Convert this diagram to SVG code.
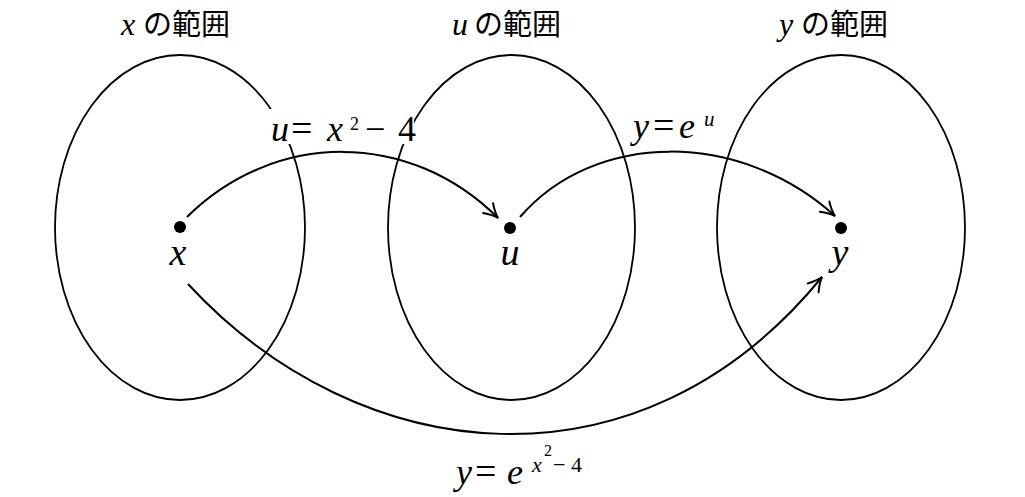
<svg xmlns="http://www.w3.org/2000/svg" width="1025" height="497" viewBox="0 0 1025 497">
<style>
.ell{fill:none;stroke:#000;stroke-width:1.8}
.con{fill:none;stroke:#000;stroke-width:2}
.m{font-family:"Liberation Serif","Times New Roman",serif;fill:#000}
.i{font-style:italic}
.cjk{font-family:"Noto Sans CJK JP",sans-serif;font-size:29px;fill:#000}
.dot{fill:#000}
</style>
<defs>
<marker id="ah" markerUnits="userSpaceOnUse" markerWidth="30" markerHeight="30" refX="0" refY="0" viewBox="-16 -15 30 30" orient="auto" overflow="visible">
<path d="M-14,-7 Q-6,-1.5 0,0 Q-6,1.5 -14,7" fill="none" stroke="#000" stroke-width="2" stroke-linecap="round"/>
</marker>
</defs>
<rect width="1025" height="497" fill="#fff"/>
<g id="range-x">
<ellipse class="ell" cx="180" cy="227.5" rx="125" ry="172.5"/>
<text class="m i" x="121" y="35" font-size="32">x</text>
<text class="cjk" x="143" y="35">の範囲</text>
</g>
<g id="range-u">
<ellipse class="ell" cx="511.5" cy="227.5" rx="123.5" ry="172.5"/>
<text class="m i" x="452" y="35" font-size="32">u</text>
<text class="cjk" x="474" y="35">の範囲</text>
</g>
<g id="range-y">
<ellipse class="ell" cx="841" cy="227.5" rx="124" ry="172.5"/>
<text class="m i" x="779" y="35" font-size="32">y</text>
<text class="cjk" x="801" y="35">の範囲</text>
</g>
<g id="node-x">
<circle class="dot" cx="180" cy="227" r="6"/>
<text class="m i" x="178" y="265" font-size="38" text-anchor="middle">x</text>
</g>
<g id="node-u">
<circle class="dot" cx="510" cy="228" r="6"/>
<text class="m i" x="510" y="265" font-size="38" text-anchor="middle">u</text>
</g>
<g id="node-y">
<circle class="dot" cx="841" cy="228" r="6"/>
<text class="m i" x="840" y="265" font-size="38" text-anchor="middle">y</text>
</g>
<g id="connectors">
<path class="con" d="M187,217 C275,130 410,130 498,218" marker-end="url(#ah)"/>
<path class="con" d="M520,217 C595,130 740,130 835,216" marker-end="url(#ah)"/>
<path class="con" d="M188,284 C360,470 640,500 822,277" marker-end="url(#ah)"/>
</g>
<g id="label-1">
<rect x="268" y="109" width="146" height="35" fill="#fff"/>
<text class="m i" x="271" y="141" font-size="36">u</text>
<text class="m" x="291" y="141" font-size="38">=</text>
<text class="m i" x="327" y="141" font-size="36">x</text>
<text class="m" x="350" y="130" font-size="18">2</text>
<text class="m" x="365" y="141" font-size="36">−</text>
<text class="m" x="398" y="141" font-size="36">4</text>
</g>
<g id="label-2">
<text class="m i" x="633" y="138" font-size="36">y</text>
<text class="m" x="653" y="138" font-size="38">=</text>
<text class="m i" x="679" y="138" font-size="36">e</text>
<text class="m i" x="704" y="126" font-size="21">u</text>
</g>
<g id="label-3">
<text class="m i" x="456" y="484" font-size="36">y</text>
<text class="m" x="475" y="484" font-size="38">=</text>
<text class="m i" x="507" y="484" font-size="36">e</text>
<text class="m i" x="532" y="472" font-size="22">x</text>
<text class="m" x="544" y="456" font-size="16">2</text>
<text class="m" x="553" y="472" font-size="22">−</text>
<text class="m" x="571" y="472" font-size="22">4</text>
</g>
</svg>
